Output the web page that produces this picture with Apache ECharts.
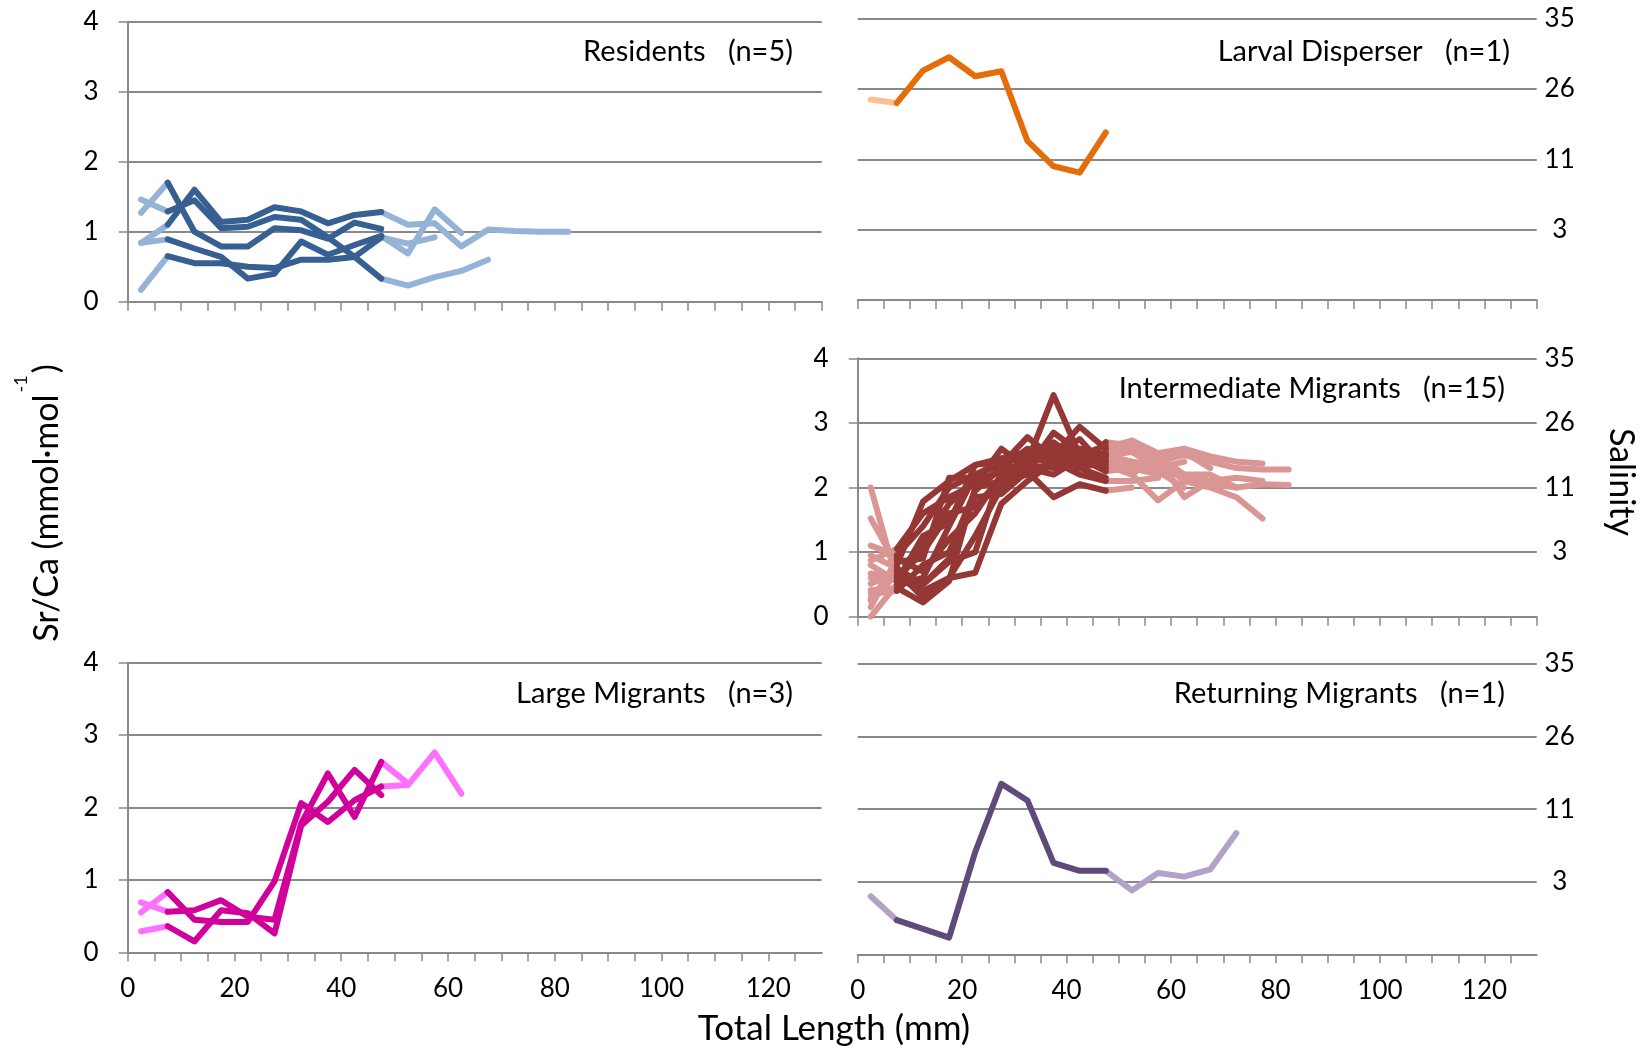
<!DOCTYPE html>
<html><head><meta charset="utf-8">
<script src="https://cdn.jsdelivr.net/npm/echarts@6/dist/echarts.min.js"></script>
<style>html,body{margin:0;padding:0;background:#fff}#c{width:1642px;height:1050px}</style>
</head><body><div id="c"></div>
<script>
// ---------- data ----------
const lengthsMM = [2.5, 7.5, 12.5, 17.5, 22.5, 27.5, 32.5, 37.5, 42.5, 47.5, 52.5, 57.5, 62.5, 67.5, 72.5, 77.5, 82.5];
const xTickLabels = [0, 20, 40, 60, 80, 100, 120];
const yTickLabels = ['0', '1', '2', '3', '4'];
const salinityLabels = ['', '3', '11', '26', '35'];
const panelTitles = ['Residents   (n=5)', 'Larval Disperser   (n=1)', 'Intermediate Migrants   (n=15)', 'Large Migrants   (n=3)', 'Returning Migrants   (n=1)'];

// Sr/Ca (mmol·mol-1) per individual, starting at 2.5 mm, 5 mm steps
const residents = [
  [0.84, 1.10, 1.60, 1.14, 1.17, 1.35, 1.29, 1.12, 1.24, 1.28, 1.10, 1.12, 0.79, 1.03, 1.01, 1.00, 1.00],
  [1.46, 1.29, 1.45, 1.05, 1.07, 1.21, 1.17, 0.92, 0.64, 0.33, 0.23, 0.35, 0.44, 0.60],
  [1.27, 1.70, 1.00, 0.79, 0.79, 1.05, 1.02, 0.90, 1.13, 1.04],
  [0.84, 0.89, 0.76, 0.64, 0.33, 0.40, 0.86, 0.67, 0.81, 0.94, 0.69, 1.32, 0.98],
  [0.17, 0.65, 0.55, 0.55, 0.50, 0.48, 0.60, 0.60, 0.64, 0.92, 0.83, 0.92]
];
const larvalDisperser = [
  [2.85, 2.80, 3.26, 3.45, 3.18, 3.25, 2.26, 1.90, 1.81, 2.38]
];
const intermediateMigrants = [
  [2.00, 0.55, 1.10, 1.75, 2.10, 2.25, 2.40, 3.43, 2.50, 2.45, 2.40, 2.35, 2.20],
  [1.52, 0.80, 1.78, 2.10, 2.35, 2.45, 2.55, 2.50, 2.94, 2.60, 2.73, 2.53, 2.60, 2.48, 2.40, 2.37],
  [1.10, 0.95, 1.40, 2.00, 2.20, 2.35, 2.78, 2.45, 2.35, 2.70, 2.65, 2.40, 2.50, 2.40, 2.30, 2.28, 2.28],
  [0.87, 1.05, 1.60, 1.85, 2.05, 2.60, 2.30, 2.85, 2.55, 2.35, 2.20, 1.80, 2.10, 2.05, 2.00, 2.05, 2.04],
  [0.67, 0.60, 0.40, 0.60, 0.68, 1.75, 2.10, 2.40, 2.30, 2.40, 2.25, 2.45, 2.10, 2.00, 1.85, 1.52],
  [0.51, 0.70, 0.30, 0.60, 1.25, 2.00, 2.30, 2.20, 2.45, 2.25, 2.30, 2.20, 2.20, 2.10, 2.15, 2.10],
  [0.41, 0.45, 0.22, 0.55, 2.00, 2.10, 2.20, 2.40, 2.20, 2.10, 2.10, 2.15],
  [0.28, 0.65, 0.50, 0.90, 1.85, 1.90, 2.25, 1.85, 2.05, 1.95, 2.00],
  [0.15, 0.90, 0.70, 1.20, 1.60, 2.20, 2.35, 2.55, 2.60, 2.50, 2.55, 2.30, 2.40],
  [0.00, 0.50, 0.60, 1.40, 2.20, 2.40, 2.45, 2.70, 2.40, 2.55, 2.60, 2.45, 1.85, 2.10],
  [0.35, 0.40, 0.80, 1.00, 1.95, 2.30, 2.60, 2.50, 2.75, 2.30, 2.35, 2.20],
  [0.60, 0.60, 1.00, 1.60, 1.70, 2.15, 2.35, 2.30, 2.30, 2.15],
  [0.95, 0.75, 0.50, 0.85, 1.00, 2.25, 2.40, 2.60, 2.40, 2.50, 2.40, 2.25, 2.00],
  [0.80, 0.55, 1.25, 1.45, 2.35, 2.40, 2.50, 2.45, 2.50, 2.65, 2.70, 2.45, 2.55, 2.30],
  [0.25, 0.85, 0.90, 2.15, 2.15, 2.45, 2.50, 2.35, 2.60, 2.40, 2.20, 2.50, 2.20, 2.20, 2.00]
];
const largeMigrants = [
  [0.55, 0.83, 0.45, 0.42, 0.42, 0.98, 2.06, 1.80, 2.10, 2.29, 2.31, 2.76, 2.19],
  [0.69, 0.56, 0.58, 0.72, 0.49, 0.45, 1.78, 2.47, 1.87, 2.63, 2.33],
  [0.29, 0.36, 0.15, 0.58, 0.54, 0.26, 1.75, 2.08, 2.52, 2.17]
];
const returningMigrants = [
  [0.80, 0.47, 0.35, 0.23, 1.41, 2.35, 2.12, 1.26, 1.15, 1.15, 0.88, 1.12, 1.07, 1.17, 1.67]
];

// ---------- styling / layout ----------
const FONT = 'Lato, "Open Sans", sans-serif';
const GRAY = '#898989';
const LINE_W = 6;
const panels = [
  {data: residents, dark: '#376092', light: '#95B3D7', grid: {left: 127.7, top: 21.7, width: 694, height: 280}, leftAxis: true, rightAxis: false, xLabels: false,
   title: {x: 793, y: 52}},
  {data: larvalDisperser, dark: '#E46C0A', light: '#FAC090', grid: {left: 857.7, top: 18.5, width: 679, height: 281.5}, leftAxis: false, rightAxis: true, xLabels: false,
   title: {x: 1510, y: 52}},
  {data: intermediateMigrants, dark: '#953735', light: '#D99694', grid: {left: 857.7, top: 358.3, width: 679, height: 258.4}, leftAxis: true, rightAxis: true, xLabels: false,
   title: {x: 1505, y: 389}},
  {data: largeMigrants, dark: '#D1009A', light: '#FF70FF', grid: {left: 127.7, top: 662.7, width: 694, height: 289.6}, leftAxis: true, rightAxis: false, xLabels: true,
   title: {x: 793, y: 694}},
  {data: returningMigrants, dark: '#604A7B', light: '#B3A2C7', grid: {left: 857.7, top: 664, width: 679, height: 290.3}, leftAxis: false, rightAxis: true, xLabels: true,
   title: {x: 1505, y: 694}}
];

const grids = [], xAxes = [], yAxes = [], series = [], graphics = [];
panels.forEach((p, gi) => {
  grids.push(Object.assign({outerBoundsMode: 'none', containLabel: false}, p.grid));
  xAxes.push({
    type: 'value', gridIndex: gi, min: 0, max: 130, interval: 5,
    axisLine: {show: true, onZero: false, lineStyle: {color: GRAY, width: 2}},
    axisTick: {show: true, length: 9, lineStyle: {color: GRAY, width: 1.5}},
    splitLine: {show: false},
    axisLabel: {show: p.xLabels, margin: 23, fontSize: 26, color: '#000', fontFamily: FONT,
      showMaxLabel: false,
      formatter: v => xTickLabels.indexOf(v) >= 0 ? String(v) : ''}
  });
  const leftIdx = yAxes.length;
  yAxes.push({
    type: 'value', gridIndex: gi, min: 0, max: 4, interval: 1, position: 'left',
    axisLine: {show: p.leftAxis, lineStyle: {color: GRAY, width: 2}},
    axisTick: {show: p.leftAxis, length: 9, lineStyle: {color: GRAY, width: 1.5}},
    splitLine: {show: true, lineStyle: {color: GRAY, width: 2}},
    axisLabel: {show: p.leftAxis, margin: 29, fontSize: 26, color: '#000', fontFamily: FONT,
      formatter: v => yTickLabels[v]}
  });
  if (p.rightAxis) {
    yAxes.push({
      type: 'value', gridIndex: gi, min: 0, max: 4, interval: 1, position: 'right',
      axisLine: {show: false}, axisTick: {show: false}, splitLine: {show: false},
      axisLabel: {show: true, margin: 23, align: 'center', fontSize: 26, color: '#000', fontFamily: FONT,
        formatter: v => salinityLabels[v]}
    });
  }
  const mk = (vals, a, b, color, z) => ({
    type: 'line', xAxisIndex: gi, yAxisIndex: leftIdx, symbol: 'none', silent: true, z: z,
    lineStyle: {color: color, width: LINE_W, join: 'round', cap: 'round'},
    emphasis: {disabled: true},
    data: vals.slice(a, b).map((v, k) => [lengthsMM[a + k], v])
  });
  p.data.forEach(ind => {
    series.push(mk(ind, 0, 2, p.light, 2));
    if (ind.length > 10) series.push(mk(ind, 9, ind.length, p.light, 2));
  });
  p.data.forEach(ind => {
    series.push(mk(ind, 1, Math.min(10, ind.length), p.dark, 3));
  });
  graphics.push({type: 'text', x: p.title.x, y: p.title.y, z: 10,
    style: {text: panelTitles[gi], fontSize: 29, fontFamily: FONT, fill: '#000', align: 'right', verticalAlign: 'middle'}});
});

graphics.push({type: 'text', x: 834, y: 1029, z: 10,
  style: {text: 'Total Length (mm)', fontSize: 35, fontFamily: FONT, fill: '#000', align: 'center', verticalAlign: 'middle'}});
graphics.push({type: 'text', x: 1621, y: 482, rotation: -Math.PI / 2, z: 10,
  style: {text: 'Salinity', fontSize: 34, fontFamily: FONT, fill: '#000', align: 'center', verticalAlign: 'middle'}});
graphics.push({type: 'text', x: 47, y: 503, rotation: Math.PI / 2, z: 10,
  style: {text: '{a|Sr/Ca (mmol·mol}{s|-1}{a|)}', fontFamily: FONT, fill: '#000', align: 'center', verticalAlign: 'middle',
    rich: {
      a: {fontSize: 34, fontFamily: FONT, fill: '#000', lineHeight: 34, verticalAlign: 'bottom'},
      s: {fontSize: 18, fontFamily: FONT, fill: '#000', lineHeight: 18, padding: [0, 2, 34, 2], verticalAlign: 'bottom'}
    }}});

const chart = echarts.init(document.getElementById('c'), null, {renderer: 'canvas'});
chart.setOption({
  animation: false,
  backgroundColor: '#fff',
  grid: grids, xAxis: xAxes, yAxis: yAxes, series: series,
  graphic: graphics
});
</script></body></html>
